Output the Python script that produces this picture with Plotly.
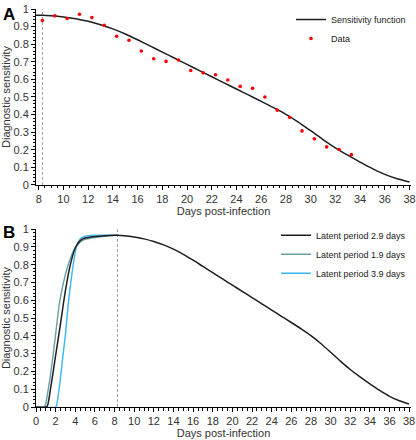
import plotly.graph_objects as go

# ---------------- data ----------------
# Panel A: observed data
data_days = [8.3, 9.3, 10.3, 11.3, 12.3, 13.3, 14.3, 15.3, 16.3, 17.3, 18.3, 19.3, 20.3,
             21.3, 22.3, 23.3, 24.3, 25.3, 26.3, 27.3, 28.3, 29.3, 30.3, 31.3, 32.3, 33.3]
data_vals = [0.935, 0.961, 0.946, 0.970, 0.951, 0.907, 0.845, 0.822, 0.761, 0.717, 0.702,
             0.710, 0.650, 0.637, 0.626, 0.596, 0.560, 0.549, 0.500, 0.425, 0.384, 0.307,
             0.262, 0.216, 0.201, 0.172]

# Sensitivity function (latent period 2.9 days)
sens_days = [0, 1.0, 1.15, 1.5, 2.0, 2.5, 3.0, 3.5, 4.0, 4.5, 5.0, 6.0, 7.0, 8.0, 8.3,
             9, 10, 11, 12, 13, 14, 15, 16, 17, 18, 19, 20, 21, 22, 23, 24, 25, 26, 27,
             28, 29, 30, 31, 32, 33, 34, 35, 36, 37, 38]
sens_vals = [0, 0, 0.005, 0.11, 0.29, 0.47, 0.655, 0.80, 0.895, 0.935, 0.950, 0.958, 0.963,
             0.965, 0.965, 0.962, 0.955, 0.945, 0.930, 0.911, 0.887, 0.858, 0.825, 0.790,
             0.755, 0.720, 0.685, 0.650, 0.615, 0.580, 0.545, 0.510, 0.475, 0.439,
             0.401, 0.357, 0.308, 0.258, 0.211, 0.169, 0.130, 0.093, 0.060, 0.035, 0.017]

# Latent period 1.9 days
lat19_days = [0, 0.85, 1.0, 1.25, 1.5, 1.76, 2.0, 2.37, 2.8, 3.28, 3.8, 4.46, 5.0, 6.0, 7.0, 8.3]
lat19_vals = [0, 0, 0.02, 0.10, 0.19, 0.30, 0.41, 0.577, 0.70, 0.80, 0.875, 0.925, 0.942,
              0.953, 0.960, 0.965]

# Latent period 3.9 days
lat39_days = [0, 2.0, 2.1, 2.4, 2.77, 3.0, 3.28, 3.5, 3.79, 4.12, 4.5, 5.0, 6.0, 7.0, 8.3]
lat39_vals = [0, 0, 0.01, 0.12, 0.30, 0.41, 0.577, 0.68, 0.80, 0.90, 0.945, 0.960, 0.966,
              0.966, 0.965]

peak_day = 8.3

names_a = ["Sensitivity function", "Data"]
names_b = ["Latent period 2.9 days", "Latent period 1.9 days", "Latent period 3.9 days"]

FONT = "Arial, Liberation Sans, sans-serif"
TXT = "#333333"
C_BLACK = "#1e1e1e"
C_GRAY = "#6a9fa3"
C_BLUE = "#38b6f5"

fig = go.Figure()

# Panel A
fig.add_trace(go.Scatter(x=sens_days, y=sens_vals, mode="lines", name=names_a[0],
                         line=dict(color=C_BLACK, width=1.5, shape="spline", smoothing=0.8),
                         xaxis="x", yaxis="y", legend="legend"))
fig.add_trace(go.Scatter(x=data_days, y=data_vals, mode="markers", name=names_a[1],
                         marker=dict(color="#ff0000", size=3.6),
                         xaxis="x", yaxis="y", legend="legend"))

# Panel B
fig.add_trace(go.Scatter(x=lat19_days, y=lat19_vals, mode="lines", name=names_b[1],
                         line=dict(color=C_GRAY, width=1.4, shape="spline", smoothing=0.6),
                         xaxis="x2", yaxis="y2", legend="legend2", legendrank=2))
fig.add_trace(go.Scatter(x=lat39_days, y=lat39_vals, mode="lines", name=names_b[2],
                         line=dict(color=C_BLUE, width=1.4, shape="spline", smoothing=0.6),
                         xaxis="x2", yaxis="y2", legend="legend2", legendrank=3))
fig.add_trace(go.Scatter(x=sens_days, y=sens_vals, mode="lines", name=names_b[0],
                         line=dict(color=C_BLACK, width=1.5, shape="spline", smoothing=0.8),
                         xaxis="x2", yaxis="y2", legend="legend2", legendrank=1))

# dashed vertical line at peak
for xr, yr in (("x", "y"), ("x2", "y2")):
    fig.add_shape(type="line", xref=xr, yref=yr, x0=peak_day, x1=peak_day, y0=0, y1=1,
                  line=dict(color="#a0a0a0", width=1, dash="3px,2px"), layer="below")

axis_common = dict(showline=True, linecolor="black", linewidth=1, ticks="outside",
                   ticklen=4, tickcolor="black", tickwidth=1, showgrid=False, zeroline=False,
                   tickfont=dict(family=FONT, size=11, color=TXT),
                   mirror=False, automargin=False)

minor_x = dict(dtick=0.5, ticks="outside", ticklen=2.5, tickcolor="black", showgrid=False)
minor_y = dict(dtick=0.02, ticks="outside", ticklen=2.5, tickcolor="black", showgrid=False)
title_font = dict(family=FONT, size=11, color=TXT)

fig.update_layout(
    template="none",
    width=416, height=440,
    margin=dict(l=36, r=5, t=5, b=33),
    paper_bgcolor="white", plot_bgcolor="white",
    font=dict(family=FONT, size=11, color=TXT),
    xaxis=dict(**axis_common, domain=[0, 1], anchor="y", range=[7.78, 38.12], dtick=2,
               tick0=0, minor=minor_x,
               title=dict(text="Days post-infection", standoff=3, font=title_font)),
    yaxis=dict(**axis_common, domain=[0.558, 1], anchor="x", range=[0, 1], dtick=0.1,
               minor=minor_y,
               title=dict(text="Diagnostic sensitivity", standoff=4, font=title_font)),
    xaxis2=dict(**axis_common, domain=[0, 1], anchor="y2", range=[0, 38.19], dtick=2,
                tick0=0, minor=minor_x,
                title=dict(text="Days post-infection", standoff=3, font=title_font)),
    yaxis2=dict(**axis_common, domain=[0, 0.447], anchor="x2", range=[0, 1], dtick=0.1,
                minor=minor_y,
                title=dict(text="Diagnostic sensitivity", standoff=4, font=title_font)),
    legend=dict(x=1.0, y=1.01, xanchor="right", yanchor="top", bgcolor="rgba(0,0,0,0)",
                font=dict(family=FONT, size=9, color="#222222"), itemwidth=30,
                borderwidth=0, tracegroupgap=0, traceorder="normal"),
    legend2=dict(x=1.0, y=0.468, xanchor="right", yanchor="top", bgcolor="rgba(0,0,0,0)",
                 font=dict(family=FONT, size=9, color="#222222"), itemwidth=30,
                 borderwidth=0, tracegroupgap=0, traceorder="normal"),
    showlegend=True,
)

fig.add_annotation(text="<b>A</b>", xref="paper", yref="paper", x=-0.0733, y=0.985,
                   xanchor="center", yanchor="middle", showarrow=False,
                   font=dict(family=FONT, size=17, color="black"))
fig.add_annotation(text="<b>B</b>", xref="paper", yref="paper", x=-0.0733, y=0.438,
                   xanchor="center", yanchor="middle", showarrow=False,
                   font=dict(family=FONT, size=17, color="black"))

fig.write_html("out.html", config={"displayModeBar": False},
               post_script="document.body.style.margin='0';document.body.style.overflow='hidden';")
